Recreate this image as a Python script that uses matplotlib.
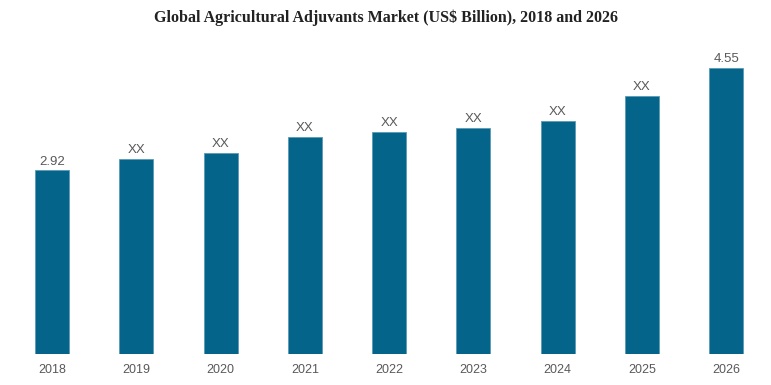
import matplotlib
matplotlib.use("Agg")
import matplotlib.pyplot as plt

years = ["2018", "2019", "2020", "2021", "2022", "2023", "2024", "2025", "2026"]
values = [2.92, 3.10, 3.20, 3.45, 3.53, 3.60, 3.71, 4.11, 4.55]
labels = ["2.92", "XX", "XX", "XX", "XX", "XX", "XX", "XX", "4.55"]

W, H = 771, 385
fig = plt.figure(figsize=(W / 100, H / 100), dpi=100)
left, right = 9.85, 768.5
bottom, top = 354, 30
ax = fig.add_axes([left / W, 1 - bottom / H, (right - left) / W, (bottom - top) / H])

x = range(len(years))
bars = ax.bar(x, values, width=0.403, color="#04648A", edgecolor="#5a9bb5", linewidth=0.6)
ax.set_xlim(-0.5, len(years) - 0.5)
ax.set_ylim(0, (bottom - top) / 62.86)

for xi, v, lab in zip(x, values, labels):
    ax.annotate(lab, (xi, v), xytext=(0, 2), textcoords="offset points",
                ha="center", va="bottom", fontsize=9.5, color="#595959",
                family="Liberation Sans")

ax.set_xticks(list(x))
ax.set_xticklabels(years, fontsize=9, color="#595959", family="Liberation Sans")
ax.tick_params(axis="x", length=0, pad=7)
ax.set_yticks([])
for s in ax.spines.values():
    s.set_visible(False)

fig.text(0.5, 1 - 18 / H, "Global Agricultural Adjuvants Market (US$ Billion), 2018 and 2026",
         ha="center", va="center", fontsize=11.5, fontweight="bold",
         family="Liberation Serif", color="#222222")

fig.savefig("out.png", dpi=100)
